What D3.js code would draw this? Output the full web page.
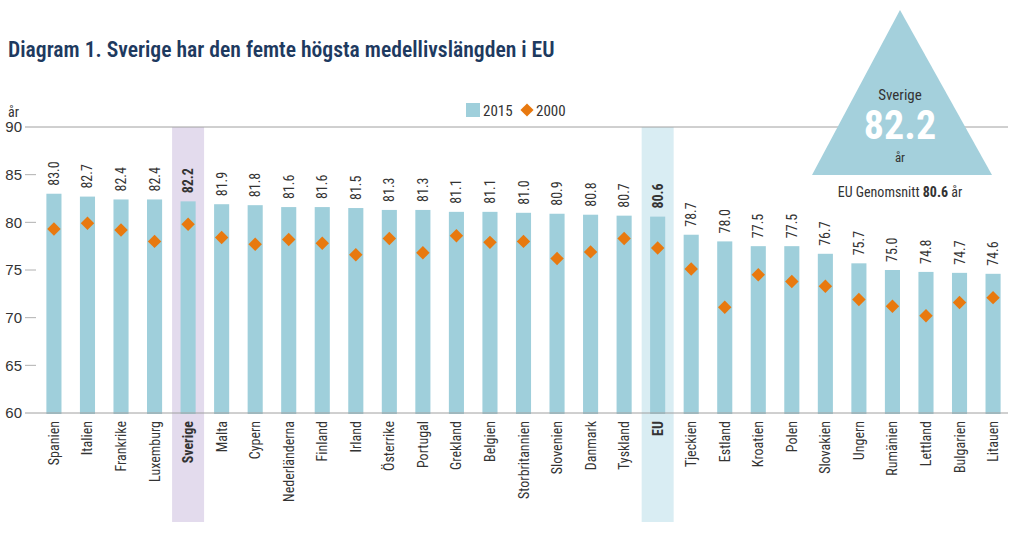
<!DOCTYPE html>
<html><head><meta charset="utf-8">
<script src="https://cdn.jsdelivr.net/npm/d3@7"></script>
<style>
body{margin:0;background:#fff;}
svg{display:block;font-family:"Liberation Sans Narrow","Roboto Condensed","DejaVu Sans Condensed",Roboto,sans-serif;}
</style></head><body>
<svg id="c" width="1024" height="534"></svg>
<script>
const countries = ["Spanien","Italien","Frankrike","Luxemburg","Sverige","Malta","Cypern","Nederländerna","Finland","Irland","Österrike","Portugal","Grekland","Belgien","Storbritannien","Slovenien","Danmark","Tyskland","EU","Tjeckien","Estland","Kroatien","Polen","Slovakien","Ungern","Rumänien","Lettland","Bulgarien","Litauen"];
const values2015 = [83.0,82.7,82.4,82.4,82.2,81.9,81.8,81.6,81.6,81.5,81.3,81.3,81.1,81.1,81.0,80.9,80.8,80.7,80.6,78.7,78.0,77.5,77.5,76.7,75.7,75.0,74.8,74.7,74.6];
const values2000 = [79.3,79.9,79.2,78.0,79.8,78.4,77.7,78.2,77.8,76.6,78.3,76.8,78.6,77.9,78.0,76.2,76.9,78.3,77.3,75.1,71.1,74.5,73.8,73.3,71.9,71.2,70.2,71.6,72.1];
const yTicks = [60,65,70,75,80,85,90];
const highlights = ["Sverige","EU"];
const titleText = "Diagram 1. Sverige har den femte högsta medellivslängden i EU";

const svg = d3.select("#c");
const barColor = "#9fcfdb", dia = "#e8790f", txt = "#333";

const x = d3.scaleBand().domain(countries).range([37, 1010]).paddingInner(0.55).paddingOuter(0.28);
const y = d3.scaleLinear().domain([60,90]).range([413,127]);

// highlight bands
const hlColor = {Sverige:"#e3dbed", EU:"#d9edf3"};
svg.selectAll("rect.hl").data(highlights).join("rect")
  .attr("x", d => x(d) + x.bandwidth()/2 - 16)
  .attr("width", 32)
  .attr("y", y(90))
  .attr("height", 522 - y(90))
  .attr("fill", d => hlColor[d]);

// top grid line
svg.append("line").attr("x1",25).attr("x2",1008).attr("y1",y(90)).attr("y2",y(90)).attr("stroke","#a0a0a0").attr("stroke-width",1);

// bars
svg.selectAll("rect.bar").data(countries).join("rect")
  .attr("x", d => x(d)).attr("width", x.bandwidth())
  .attr("y", (d,i) => y(values2015[i]))
  .attr("height", (d,i) => y(60) - y(values2015[i]) + 1)
  .attr("fill", barColor);

svg.append("line").attr("x1",25).attr("x2",1008).attr("y1",y(60)).attr("y2",y(60)).attr("stroke","#a0a0a0").attr("stroke-width",1);

// y axis
const yAxis = d3.axisLeft(y).tickValues(yTicks).tickSize(0).tickPadding(0);
const ya = svg.append("g").attr("transform","translate(22,0)").call(yAxis);
ya.select(".domain").remove();
ya.selectAll("text").attr("font-size",15).attr("fill",txt).attr("font-family","inherit");
yTicks.filter(t => t>60 && t<90).forEach(t => {
  svg.append("line").attr("x1",25).attr("x2",36).attr("y1",y(t)).attr("y2",y(t)).attr("stroke","#b0b0b0");
});
svg.append("text").attr("x",8).attr("y",117).attr("font-size",14).attr("fill",txt).text("år");

// diamonds
const sym = d3.symbol().type(d3.symbolDiamond2).size(115);
svg.selectAll("path.dia").data(countries).join("path")
  .attr("d", sym)
  .attr("transform",(d,i)=>`translate(${x(d)+x.bandwidth()/2},${y(values2000[i])})`)
  .attr("fill", dia);

// value labels
svg.selectAll("text.val").data(countries).join("text")
  .attr("transform",(d,i)=>`translate(${x(d)+x.bandwidth()/2+5},${y(values2015[i])-8}) rotate(-90)`)
  .attr("font-size",14).attr("fill",txt)
  .attr("font-weight", d => highlights.includes(d) ? "bold" : "normal")
  .text((d,i)=>values2015[i].toFixed(1));

// category labels
svg.selectAll("text.cat").data(countries).join("text")
  .attr("transform",d=>`translate(${x(d)+x.bandwidth()/2+5},421) rotate(-90)`)
  .attr("text-anchor","end")
  .attr("font-size",14).attr("fill",txt)
  .attr("font-weight", d => highlights.includes(d) ? "bold" : "normal")
  .text(d=>d);

// title
const title = svg.append("text").attr("x",8).attr("y",57).attr("fill","#1e3a5f")
  .attr("font-size",20).attr("font-weight","600").text(titleText);
const tw = title.node().getComputedTextLength();
title.attr("font-size", 20*547/tw);

// legend
const lg = svg.append("g");
lg.append("rect").attr("x",466).attr("y",103).attr("width",14).attr("height",14).attr("fill",barColor);
lg.append("text").attr("x",483).attr("y",116).attr("font-size",15).attr("fill",txt).text("2015");
lg.append("path").attr("d", d3.symbol().type(d3.symbolDiamond2).size(110)).attr("transform","translate(527,110)").attr("fill",dia);
lg.append("text").attr("x",536).attr("y",116).attr("font-size",15).attr("fill",txt).text("2000");

// triangle callout
svg.append("path").attr("d", d3.line()([[900,10],[992,175],[812,175]]) + "Z").attr("fill","#a4d0dc");
svg.append("text").attr("x",900).attr("y",100).attr("text-anchor","middle").attr("font-size",15).attr("fill",txt).text("Sverige");
svg.append("text").attr("x",900).attr("y",139).attr("text-anchor","middle").attr("font-size",40).attr("font-weight","bold").attr("fill","#fff").text(values2015[countries.indexOf("Sverige")].toFixed(1));
svg.append("text").attr("x",900).attr("y",162).attr("text-anchor","middle").attr("font-size",13).attr("fill",txt).text("år");
const eu = svg.append("text").attr("x",900).attr("y",197).attr("text-anchor","middle").attr("font-size",14).attr("fill",txt);
eu.append("tspan").text("EU Genomsnitt ");
eu.append("tspan").attr("font-weight","bold").text(values2015[countries.indexOf("EU")].toFixed(1));
eu.append("tspan").text(" år");
</script>
</body></html>
